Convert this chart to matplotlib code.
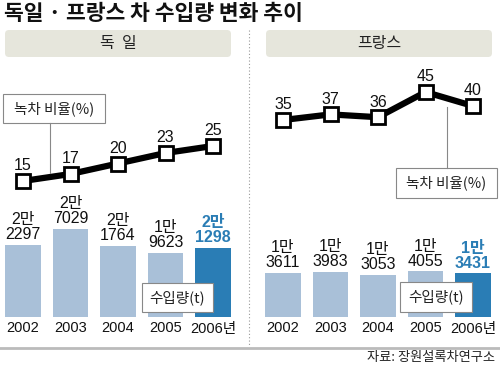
import matplotlib
matplotlib.use("Agg")
import matplotlib.pyplot as plt
from matplotlib.patches import FancyBboxPatch, Rectangle

plt.rcParams['font.family'] = ['Liberation Sans', 'Noto Sans CJK KR', 'DejaVu Sans']

# 데이터
years = ["2002", "2003", "2004", "2005", "2006년"]
germany_import = [22297, 27029, 21764, 19623, 21298]
germany_import_lbl = ["2만\n2297", "2만\n7029", "2만\n1764", "1만\n9623", "2만\n1298"]
germany_ratio = [15, 17, 20, 23, 25]
france_import = [13611, 13983, 13053, 14055, 13431]
france_import_lbl = ["1만\n3611", "1만\n3983", "1만\n3053", "1만\n4055", "1만\n3431"]
france_ratio = [35, 37, 36, 45, 40]

W, H = 500, 369
LIGHT = "#a9c0d8"
DARK = "#2a7db5"
HEAD = "#e6e6dc"
KR = ['Noto Sans CJK KR', 'DejaVu Sans']
NUM = ['Liberation Sans', 'Noto Sans CJK KR']


def box(x0, y_top, w, h):
    # 픽셀 좌표(위에서부터) -> figure 비율
    return [x0 / W, (H - y_top - h) / H, w / W, h / H]


fig = plt.figure(figsize=(5, 3.69), dpi=100)

# 배경 장식
bg = fig.add_axes([0, 0, 1, 1])
bg.set_xlim(0, W)
bg.set_ylim(H, 0)
bg.axis("off")
bg.text(4, 13, "독일 · 프랑스 차 수입량 변화 추이", family=KR, fontsize=15.5,
        fontweight="bold", va="center", ha="left", color="#111111")
for x0, label in [(5, "독  일"), (266, "프랑스")]:
    bg.add_patch(FancyBboxPatch((x0, 30), 226, 27, boxstyle="round,pad=0,rounding_size=4",
                                fc=HEAD, ec="none"))
    bg.text(x0 + 113, 43.5, label, family=KR, fontsize=11.5, ha="center", va="center",
            color="#222222")
bg.plot([249, 249], [30, 345], ls=(0, (1, 2)), color="#999999", lw=0.8)
bg.plot([0, 500], [348, 348], color="#bbbbbb", lw=2)
bg.text(495, 358, "자료: 장원설록차연구소", family=KR, fontsize=9.5, ha="right",
        va="center", color="#222222")

panels = [
    (-0.75, germany_import, germany_import_lbl, germany_ratio, 181, 15, 3.5),
    (259.25, france_import, france_import_lbl, france_ratio, 120, 35, 2.8),
]
px_per_t = 0.00325
for x0, imp, lbl, ratio, y_ref, v_ref, px_unit in panels:
    # 막대 (수입량)
    ax = fig.add_axes(box(x0, 197, 237.5, 120))
    ax.set_xlim(-0.5, 4.5)
    ax.set_ylim(0, 120 / px_per_t)
    ax.axis("off")
    cols = [LIGHT] * 4 + [DARK]
    ax.bar(range(5), imp, width=0.74, color=cols)
    for i, (v, t) in enumerate(zip(imp, lbl)):
        hi = i == 4
        ax.annotate(t, (i, v), xytext=(0, 2), textcoords="offset points", ha="center",
                    va="bottom", family=NUM, fontsize=11.5, linespacing=1.0,
                    color=DARK if hi else "#111111", fontweight="bold" if hi else "normal")
        ax.text(i, -4.5 / px_per_t, years[i], family=NUM, fontsize=10.5,
                ha="center", va="top", color="#111111")

    # 선 (녹차 비율)
    lx = fig.add_axes(box(x0, 70, 237.5, 130))
    lx.set_xlim(-0.5, 4.5)
    bottom = v_ref - (200 - y_ref) / px_unit
    lx.set_ylim(bottom, bottom + 130 / px_unit)
    lx.axis("off")
    lx.plot(range(5), ratio, color="black", lw=4.5, marker="s", markersize=9.5,
            mfc="white", mec="black", mew=2, solid_joinstyle="miter")
    for i, v in enumerate(ratio):
        lx.annotate(str(v), (i, v), xytext=(0, 5.5), textcoords="offset points",
                    ha="center", va="bottom", family=NUM, fontsize=11.5, color="#111111")

# 설명 상자
fg = fig.add_axes([0, 0, 1, 1])
fg.set_xlim(0, W)
fg.set_ylim(H, 0)
fg.axis("off")
fg.patch.set_alpha(0)
fg.plot([50, 50], [123, 173], color="#888888", lw=0.8)
fg.plot([447, 447], [107, 168], color="#888888", lw=0.8)
for x0, y0, w, h, t in [(3, 94, 102, 29, "녹차 비율(%)"), (396, 168, 101, 30, "녹차 비율(%)"),
                        (142, 283, 71, 29, "수입량(t)"), (400, 282, 72, 30, "수입량(t)")]:
    fg.add_patch(Rectangle((x0, y0), w, h, fc="white", ec="#888888", lw=0.8))
    fg.text(x0 + w / 2, y0 + h / 2, t, family=KR, fontsize=10.5, ha="center",
            va="center", color="#222222")

fig.savefig("out.png", dpi=100)
